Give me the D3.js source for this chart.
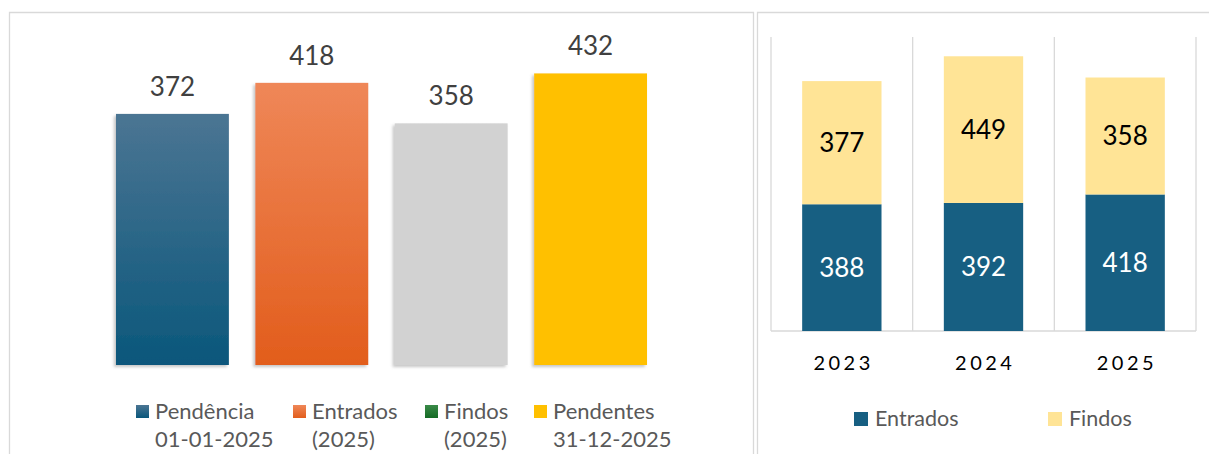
<!DOCTYPE html>
<html>
<head>
<meta charset="utf-8">
<script src="https://cdn.jsdelivr.net/npm/d3@7/dist/d3.min.js"></script>
<style>
  html, body { margin: 0; padding: 0; background: #ffffff; }
  svg { display: block; font-family: Lato, "Open Sans", sans-serif; }
</style>
</head>
<body>
<svg id="chart" width="1209" height="454"></svg>
<script>
// Movement of cases in 2025
const movementKeys = ["pend", "entr", "find", "pendFim"];
const movementValues = [372, 418, 358, 432];
const movementLegendLine1 = ["Pendência", "Entrados", "Findos", "Pendentes"];
const movementLegendLine2 = ["01-01-2025", "(2025)", "(2025)", "31-12-2025"];

// Yearly comparison of entered and closed cases
const years = ["2023", "2024", "2025"];
const entrados = [388, 392, 418];
const findos = [377, 449, 358];
const seriesNames = ["Entrados", "Findos"];

const svg = d3.select("#chart");
const defs = svg.append("defs");

// Vertical gradients for the bars and legend swatches
const gradients = {
  pend: ["#4b7593", "#0a577b"],
  entr: ["#ef8758", "#e25d1c"],
  find: ["#d2d2d2", "#d2d2d2"],
  pendFim: ["#ffc000", "#ffc000"],
  findLegend: ["#3a8a48", "#156b25"]
};
Object.entries(gradients).forEach(([id, [c0, c1]]) => {
  const g = defs.append("linearGradient").attr("id", "g-" + id)
    .attr("x1", 0).attr("y1", 0).attr("x2", 0).attr("y2", 1);
  g.append("stop").attr("offset", "0%").attr("stop-color", c0);
  g.append("stop").attr("offset", "100%").attr("stop-color", c1);
});

const shadow = defs.append("filter").attr("id", "barShadow")
  .attr("x", "-20%").attr("y", "-20%").attr("width", "140%").attr("height", "140%");
shadow.append("feDropShadow").attr("dx", -2).attr("dy", 2)
  .attr("stdDeviation", 1.6).attr("flood-color", "#808080").attr("flood-opacity", 0.45);

// Panel frames
const frame = svg.append("g").attr("fill", "none").attr("stroke", "#d9d9d9").attr("stroke-width", 1.3);
frame.append("path").attr("d", "M9.5,454 V12.5 H753.5 V454");
frame.append("path").attr("d", "M757.5,454 V12.5 H1209");

// ---------- Left chart ----------
const xL = d3.scaleBand().domain(movementKeys).range([89.5, 673.5])
  .paddingInner(0.19).paddingOuter(0.19);
const yL = d3.scaleLinear().domain([0, 500]).range([365, 27.5]);

const left = svg.append("g");
left.selectAll("rect.bar").data(movementKeys).join("rect")
  .attr("class", "bar")
  .attr("x", d => xL(d))
  .attr("width", xL.bandwidth())
  .attr("y", (d, i) => yL(movementValues[i]))
  .attr("height", (d, i) => yL(0) - yL(movementValues[i]))
  .attr("fill", d => `url(#g-${d})`)
  .attr("filter", "url(#barShadow)");

left.selectAll("text.val").data(movementKeys).join("text")
  .attr("class", "val")
  .attr("x", d => xL(d) + xL.bandwidth() / 2)
  .attr("y", (d, i) => yL(movementValues[i]) - 18)
  .attr("text-anchor", "middle")
  .attr("font-size", 26)
  .attr("fill", "#404040")
  .text((d, i) => movementValues[i]);

// Legend of the left chart
const legendLX = [136, 293, 425, 534];
const swatchL = ["g-pend", "g-entr", "g-findLegend", "g-pendFim"];
const legL = left.append("g");
movementKeys.forEach((k, i) => {
  const g = legL.append("g");
  g.append("rect").attr("x", legendLX[i]).attr("y", 405).attr("width", 13).attr("height", 13)
    .attr("fill", `url(#${swatchL[i]})`);
  g.append("text").attr("x", legendLX[i] + 19).attr("y", 419)
    .attr("font-size", 22).attr("fill", "#595959").text(movementLegendLine1[i]);
  g.append("text").attr("x", legendLX[i] + 19).attr("y", 447)
    .attr("font-size", 22).attr("fill", "#595959").text(movementLegendLine2[i]);
});

// ---------- Right chart ----------
const xR = d3.scaleBand().domain(years).range([771, 1196]).paddingInner(0.44).paddingOuter(0.22);
const yR = d3.scaleLinear().domain([0, 900]).range([331, 37]);

const right = svg.append("g");

// Category separators
const xEdges = d3.scaleBand().domain(years).range([771, 1196]);
const sepX = years.map(y => xEdges(y)).concat([1196]);
right.selectAll("line.sep").data(sepX).join("line")
  .attr("class", "sep")
  .attr("x1", d => d).attr("x2", d => d)
  .attr("y1", yR.range()[1]).attr("y2", yR(0))
  .attr("stroke", "#d9d9d9").attr("stroke-width", 1.3);
right.append("line")
  .attr("x1", 771).attr("x2", 1196).attr("y1", yR(0)).attr("y2", yR(0))
  .attr("stroke", "#d9d9d9").attr("stroke-width", 1.3);

const stackData = years.map((y, i) => ({ year: y, Entrados: entrados[i], Findos: findos[i] }));
const stacked = d3.stack().keys(seriesNames)(stackData);
const seriesColor = { Entrados: "#175f82", Findos: "#ffe496" };
const labelColor = { Entrados: "#ffffff", Findos: "#000000" };

stacked.forEach(s => {
  const g = right.append("g");
  g.selectAll("rect").data(s).join("rect")
    .attr("x", d => xR(d.data.year))
    .attr("width", xR.bandwidth())
    .attr("y", d => yR(d[1]))
    .attr("height", d => yR(d[0]) - yR(d[1]))
    .attr("fill", seriesColor[s.key]);
  g.selectAll("text").data(s).join("text")
    .attr("x", d => xR(d.data.year) + xR.bandwidth() / 2)
    .attr("y", d => (yR(d[0]) + yR(d[1])) / 2)
    .attr("dy", "0.36em")
    .attr("text-anchor", "middle")
    .attr("font-size", 26)
    .attr("fill", labelColor[s.key])
    .text(d => d.data[s.key]);
});

// Category axis
const axisR = right.append("g").attr("transform", `translate(0,${yR(0)})`)
  .call(d3.axisBottom(xEdges).tickSize(0).tickPadding(0));
axisR.select(".domain").remove();
axisR.selectAll("text")
  .attr("y", 39)
  .attr("dy", 0)
  .attr("font-family", "Lato, sans-serif")
  .attr("font-size", 20)
  .attr("fill", "#000000")
  .attr("letter-spacing", "3.5px")
  .attr("dx", "1.75px");

// Legend of the right chart
const legendRX = [854, 1048];
seriesNames.forEach((n, i) => {
  right.append("rect").attr("x", legendRX[i]).attr("y", 412).attr("width", 14).attr("height", 14)
    .attr("fill", seriesColor[n]);
  right.append("text").attr("x", legendRX[i] + 21).attr("y", 426)
    .attr("font-size", 21.5).attr("fill", "#595959").text(n);
});
</script>
</body>
</html>
